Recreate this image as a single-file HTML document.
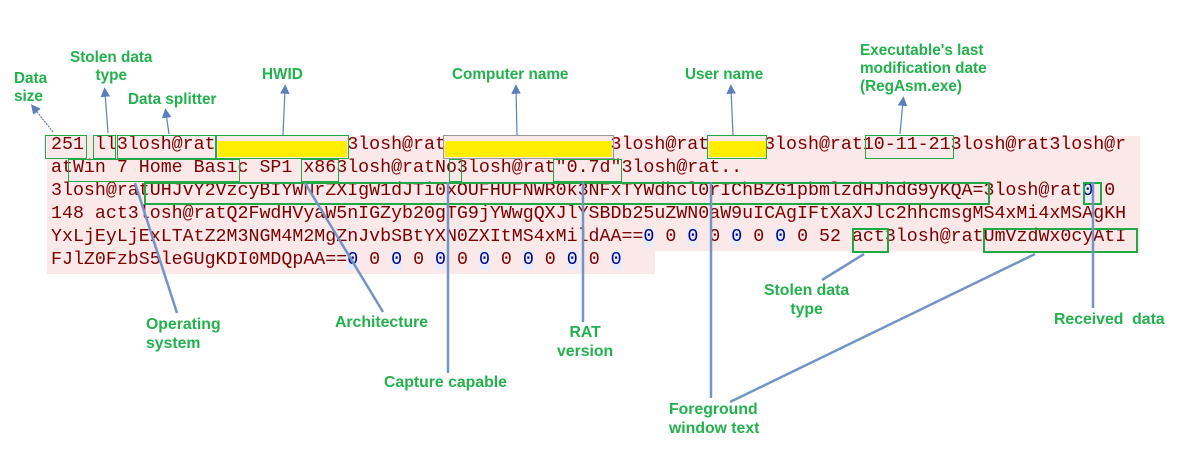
<!DOCTYPE html>
<html><head><meta charset="utf-8"><style>
body{margin:0;width:1182px;height:465px;background:#fff;position:relative;overflow:hidden}
.r{position:absolute;left:47px;height:23px;background:#fbe9ea}
pre{position:absolute;left:51px;top:134px;margin:0;font:18.3px/23px "Liberation Mono",monospace;color:#7a0000}
.z{color:#00008b;background:#e8ebfa}
.y{position:absolute;background:#ffee00;height:16px;top:141px}
.b{position:absolute;border:1.5px solid #22a845;box-sizing:border-box}
.t{position:absolute;color:#22b14c;font:bold 15.3px/18px "Liberation Sans",sans-serif;white-space:nowrap}
.n{position:absolute;color:#22b14c;font:bold 15.8px/19px "Liberation Sans Narrow","Liberation Sans",sans-serif;text-align:center;white-space:nowrap}
svg{position:absolute;left:0;top:0}
</style></head><body>
<div class="r" style="top:136px;width:1093px"></div>
<div class="r" style="top:159px;width:1093px"></div>
<div class="r" style="top:182px;width:1093px"></div>
<div class="r" style="top:205px;width:1093px"></div>
<div class="r" style="top:228px;width:1093px"></div>
<div class="r" style="top:251px;width:608px"></div>
<pre>251 ll3losh@rat            3losh@rat               3losh@rat     3losh@rat10-11-213losh@rat3losh@r
atWin 7 Home Basic SP1 x863losh@ratNo3losh@rat"0.7d"3losh@rat..
3losh@ratUHJvY2VzcyBIYWNrZXIgW1dJTi0xOUFHUFNWR0k3NFxTYWdhcl0rIChBZG1pbmlzdHJhdG9yKQA=3losh@rat<span class="z">0</span> 0
148 act3losh@ratQ2FwdHVyaW5nIGZyb20gTG9jYWwgQXJlYSBDb25uZWN0aW9uICAgIFtXaXJlc2hhcmsgMS4xMi4xMSAgKH
YxLjEyLjExLTAtZ2M3NGM4M2MgZnJvbSBtYXN0ZXItMS4xMildAA==<span class="z">0</span> 0 <span class="z">0</span> 0 <span class="z">0</span> 0 <span class="z">0</span> 0 52 act3losh@ratUmVzdWx0cyAtI
FJlZ0FzbS5leGUgKDI0MDQpAA==<span class="z">0</span> 0 <span class="z">0</span> 0 <span class="z">0</span> 0 <span class="z">0</span> 0 <span class="z">0</span> 0 <span class="z">0</span> 0 <span class="z">0</span></pre>
<div class="y" style="left:218px;width:129px"></div>
<div class="y" style="left:445px;width:167px"></div>
<div class="y" style="left:709px;width:57px"></div>
<div class="b" style="left:45px;top:135px;width:42px;height:24px"></div>
<div class="b" style="left:93px;top:135px;width:23px;height:24px"></div>
<div class="b" style="left:117px;top:135px;width:99px;height:24px"></div>
<div class="b" style="left:216px;top:135px;width:133px;height:24px"></div>
<div class="b" style="left:443px;top:135px;width:171px;height:24px;border-color:#999"></div>
<div class="b" style="left:707px;top:135px;width:60px;height:24px"></div>
<div class="b" style="left:865px;top:135px;width:89px;height:24px"></div>
<div class="b" style="left:68px;top:159px;width:172px;height:23px"></div>
<div class="b" style="left:301px;top:159px;width:38px;height:23px"></div>
<div class="b" style="left:449px;top:159px;width:13px;height:23px"></div>
<div class="b" style="left:553px;top:159px;width:69px;height:23px"></div>
<div class="b" style="left:144px;top:182px;width:846px;height:23px;border-width:2.5px"></div>
<div class="b" style="left:1083px;top:182px;width:19px;height:23px;border-width:2.5px"></div>
<div class="b" style="left:852px;top:228px;width:37px;height:25px;border-width:2.5px"></div>
<div class="b" style="left:983px;top:228px;width:155px;height:25px;border-width:2.5px"></div>
<svg width="1182" height="465">
<defs><marker id="a" markerWidth="8" markerHeight="8" refX="4" refY="4" orient="auto"><path d="M0,0 L8,4 L0,8z" fill="#5b7fbc"/></marker></defs>
<g stroke="#5b7fbc" stroke-width="1.2" fill="none" marker-end="url(#a)">
<line x1="53" y1="132" x2="34" y2="108" stroke-dasharray="2,1"/>
<line x1="108" y1="133" x2="105" y2="92"/>
<line x1="169" y1="134" x2="166" y2="113"/>
<line x1="283" y1="135" x2="285" y2="89"/>
<line x1="517" y1="135" x2="516" y2="89"/>
<line x1="733" y1="135" x2="731" y2="89"/>
<line x1="900" y1="134" x2="903" y2="101"/>
</g>
<g stroke="#7394c4" stroke-width="2.5">
<line x1="135" y1="183" x2="177" y2="313"/>
<line x1="305" y1="183" x2="383" y2="312"/>
<line x1="448" y1="182" x2="448" y2="373"/>
<line x1="583" y1="182" x2="583" y2="322"/>
<line x1="711" y1="182" x2="711" y2="398"/>
<line x1="1035" y1="254" x2="730" y2="402"/>
<line x1="864" y1="254" x2="822" y2="280"/>
<line x1="1093" y1="182" x2="1093" y2="308"/>
</g>
</svg>
<div class="t" style="left:14px;top:70px">Data<br>size</div>
<div class="t" style="left:70px;top:49px;text-align:center">Stolen data<br>type</div>
<div class="t" style="left:128px;top:91px">Data splitter</div>
<div class="t" style="left:262px;top:66px">HWID</div>
<div class="t" style="left:452px;top:66px">Computer name</div>
<div class="t" style="left:685px;top:66px">User name</div>
<div class="t" style="left:860px;top:42px">Executable's last<br>modification date<br>(RegAsm.exe)</div>
<div class="n" style="left:146px;top:315px;text-align:left">Operating<br>system</div>
<div class="n" style="left:335px;top:313px">Architecture</div>
<div class="n" style="left:384px;top:373px">Capture capable</div>
<div class="n" style="left:557px;top:323px">RAT<br>version</div>
<div class="n" style="left:764px;top:281px">Stolen data<br>type</div>
<div class="n" style="left:1054px;top:310px">Received&nbsp; data</div>
<div class="n" style="left:669px;top:400px;text-align:left">Foreground<br>window text</div>
</body></html>
